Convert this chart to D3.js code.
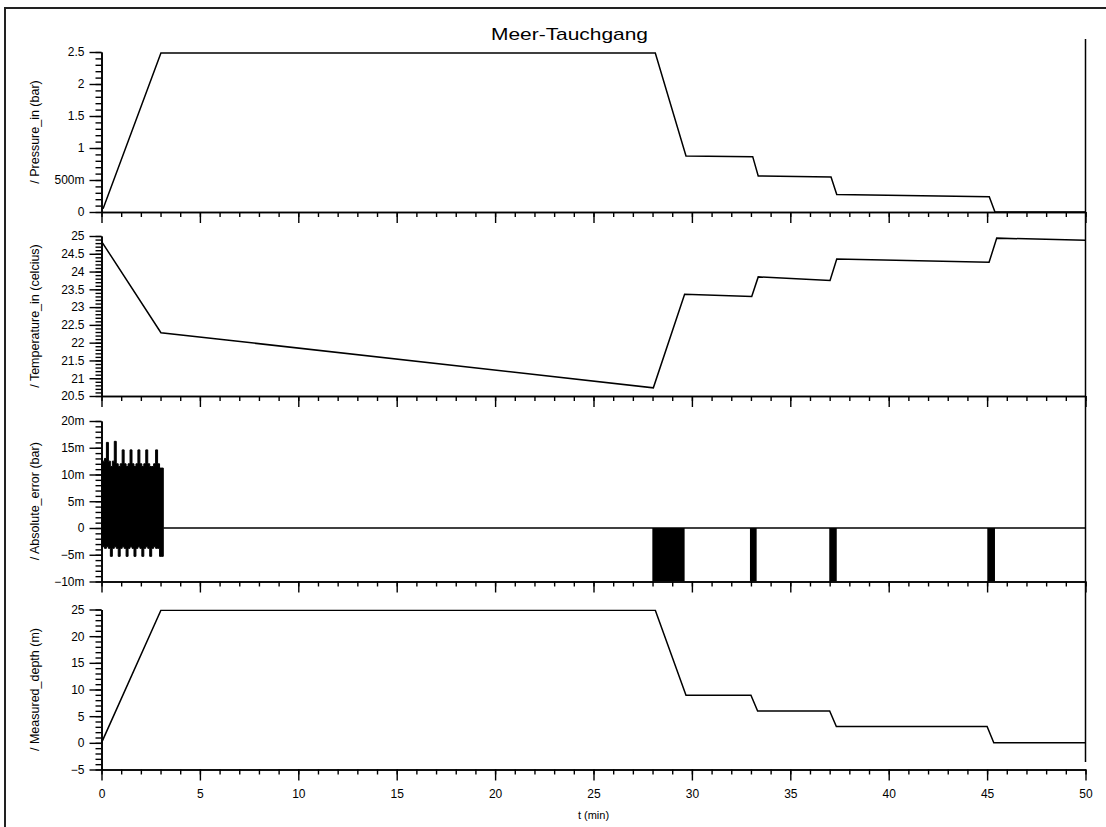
<!DOCTYPE html>
<html>
<head>
<meta charset="utf-8">
<script src="https://cdn.jsdelivr.net/npm/d3@7"></script>
<style>
  html, body { margin: 0; padding: 0; background: #fff; overflow: hidden; }
  svg { display: block; }
  text { font-family: "Liberation Sans", Arial, Helvetica, sans-serif; fill: #000; }
</style>
</head>
<body>
<svg id="chart" width="1106" height="827"></svg>
<script>
// ---------------- data ----------------
const title = "Meer-Tauchgang";
const xLabel = "t (min)";
const timeDomain = [0, 50];
const timeMajorTicks = [0, 5, 10, 15, 20, 25, 30, 35, 40, 45, 50];

const pressureT = [0.08, 3.02, 28.14, 29.70, 33.09, 33.37, 37.07, 37.36, 45.11, 45.40, 50];
const pressureV = [0.05, 2.485, 2.485, 0.875, 0.865, 0.563, 0.547, 0.272, 0.24, 0, 0];

const temperatureT = [0, 3.02, 28.04, 29.63, 33.04, 33.37, 37.02, 37.36, 45.10, 45.49, 50];
const temperatureV = [24.85, 22.28, 20.73, 23.36, 23.30, 23.85, 23.75, 24.35, 24.26, 24.94, 24.88];

// absolute error: dense oscillation envelope at the start (min / max per 0.1 min)
const errNoiseT  = [0.0, 0.1, 0.2, 0.3, 0.4, 0.5, 0.6, 0.7, 0.8, 0.9, 1.0, 1.1, 1.2, 1.3, 1.4, 1.5,
                    1.6, 1.7, 1.8, 1.9, 2.0, 2.1, 2.2, 2.3, 2.4, 2.5, 2.6, 2.7, 2.8, 2.9, 3.0, 3.14];
const errNoiseHi = [13.0, 12.5, 13.0, 16.0, 12.5, 11.5, 12.5, 16.2, 12.0, 11.5, 12.0, 14.6, 12.0, 11.5, 12.0, 14.6,
                    12.0, 11.5, 12.0, 14.6, 12.0, 11.5, 12.0, 14.6, 12.0, 11.5, 11.5, 12.0, 14.6, 12.0, 11.2, 11.2];
const errNoiseLo = [-3.5, -3.5, -3.8, -3.5, -3.8, -5.3, -3.8, -3.5, -3.8, -5.3, -3.8, -3.5, -3.8, -5.3, -3.8, -3.5,
                    -3.8, -5.3, -3.8, -3.5, -3.8, -5.3, -3.8, -3.5, -3.8, -5.3, -3.8, -3.5, -3.8, -3.8, -5.3, -5.3];
const errZeroT = [3.14, 50];
const errZeroV = [0, 0];
// bursts of large negative error during the ascents (fill from 0 down past -10m)
const errBurstStart = [27.99, 32.95, 36.98, 45.01];
const errBurstEnd   = [29.63, 33.29, 37.36, 45.40];
const errBurstLo = -10;
const errBurstHi = 0;

const depthT = [0, 3.02, 28.14, 29.70, 33.00, 33.34, 37.00, 37.34, 45.00, 45.34, 50];
const depthV = [0, 24.85, 24.85, 8.93, 8.93, 5.98, 5.98, 3.05, 3.05, 0, 0];

const cursorT = 50;

// panel axis definitions
const pressureTicks = [0, 0.5, 1, 1.5, 2, 2.5];
const pressureTickLabels = ["0", "500m", "1", "1.5", "2", "2.5"];
const temperatureTicks = [20.5, 21, 21.5, 22, 22.5, 23, 23.5, 24, 24.5, 25];
const temperatureTickLabels = ["20.5", "21", "21.5", "22", "22.5", "23", "23.5", "24", "24.5", "25"];
const errorTicks = [-10, -5, 0, 5, 10, 15, 20];
const errorTickLabels = ["\u221210m", "\u22125m", "0", "5m", "10m", "15m", "20m"];
const depthTicks = [-5, 0, 5, 10, 15, 20, 25];
const depthTickLabels = ["\u22125", "0", "5", "10", "15", "20", "25"];

// ---------------- layout ----------------
const svg = d3.select("#chart");
const X0 = 101.5, X1 = 1085.5;
const x = d3.scaleLinear().domain(timeDomain).range([X0, X1]);

const panels = [
  { name: "/ Pressure_in (bar)", domain: [0, 2.5], top: 52, bottom: 212, ticks: pressureTicks, labels: pressureTickLabels, minor: 0.1 },
  { name: "/ Temperature_in (celcius)", domain: [20.5, 25], top: 236, bottom: 396, ticks: temperatureTicks, labels: temperatureTickLabels, minor: 0.1 },
  { name: "/ Absolute_error (bar)", domain: [-10, 20], top: 421, bottom: 581.5, ticks: errorTicks, labels: errorTickLabels, minor: 1 },
  { name: "/ Measured_depth (m)", domain: [-5, 25], top: 609.5, bottom: 769.5, ticks: depthTicks, labels: depthTickLabels, minor: 1 }
];
panels.forEach(p => { p.y = d3.scaleLinear().domain(p.domain).range([p.bottom, p.top]); });

// outer frame (extends past the window like the reference)
svg.append("rect").attr("x", 5).attr("y", 8).attr("width", 1300).attr("height", 1000)
  .attr("fill", "none").attr("stroke", "#222").attr("stroke-width", 2);

// title
svg.append("text").attr("x", 569.5).attr("y", 39.5).attr("text-anchor", "middle")
  .attr("font-size", 17).text(title)
  .attr("textLength", 157).attr("lengthAdjust", "spacingAndGlyphs");

const defs = svg.append("defs");

function stepRange(lo, hi, step) {
  const n = Math.round((hi - lo) / step);
  return d3.range(n + 1).map(i => +(lo + i * step).toFixed(6));
}

panels.forEach((p, i) => {
  const g = svg.append("g");
  defs.append("clipPath").attr("id", "clip" + i).append("rect")
    .attr("x", X0).attr("y", p.top).attr("width", X1 - X0).attr("height", p.bottom - p.top);

  // x axis: minor and major ticks
  const xMinor = d3.axisBottom(x).tickValues(stepRange(0, 50, 1)).tickSize(5).tickSizeOuter(0).tickFormat("");
  const xMajor = d3.axisBottom(x).tickValues(timeMajorTicks).tickSize(11).tickSizeOuter(0)
    .tickFormat(i === panels.length - 1 ? d3.format("d") : "").tickPadding(9);
  const gxm = g.append("g").attr("transform", `translate(0,${p.bottom})`).call(xMinor);
  const gxM = g.append("g").attr("transform", `translate(0,${p.bottom})`).call(xMajor);
  [gxm, gxM].forEach(a => {
    a.selectAll("line").attr("stroke", "#000").attr("stroke-width", 1.4);
    a.select(".domain").attr("stroke", "#000").attr("stroke-width", 1.6);
    a.selectAll("text").attr("font-size", 12).attr("font-family", '"Liberation Sans", Arial, sans-serif').attr("fill", "#000");
  });

  // y axis
  const yMinor = d3.axisLeft(p.y).tickValues(stepRange(p.domain[0], p.domain[1], p.minor)).tickSize(6).tickSizeOuter(0).tickFormat("");
  const yMajor = d3.axisLeft(p.y).tickValues(p.ticks).tickSize(12).tickSizeOuter(0)
    .tickFormat((d, k) => p.labels[k]).tickPadding(5);
  const gym = g.append("g").attr("transform", `translate(${X0},0)`).call(yMinor);
  const gyM = g.append("g").attr("transform", `translate(${X0},0)`).call(yMajor);
  [gym, gyM].forEach(a => {
    a.selectAll("line").attr("stroke", "#000").attr("stroke-width", 1.4);
    a.select(".domain").attr("stroke", "#000").attr("stroke-width", 1.6);
    a.selectAll("text").attr("font-size", 12).attr("font-family", '"Liberation Sans", Arial, sans-serif').attr("fill", "#000");
  });

  // y label
  g.append("text")
    .attr("transform", `translate(38.5,${(p.top + p.bottom) / 2}) rotate(-90)`)
    .attr("text-anchor", "middle").attr("font-size", 12.5).text(p.name);

  p.plot = g.append("g").attr("clip-path", `url(#clip${i})`);
});

const lineGen = (ys) => d3.line().x(d => x(d[0])).y(d => ys(d[1]));
const zip = (a, b) => a.map((v, k) => [v, b[k]]);

// pressure
panels[0].plot.append("path").datum(zip(pressureT, pressureV))
  .attr("d", lineGen(panels[0].y)).attr("fill", "none").attr("stroke", "#000").attr("stroke-width", 1.5);

// temperature
panels[1].plot.append("path").datum(zip(temperatureT, temperatureV))
  .attr("d", lineGen(panels[1].y)).attr("fill", "none").attr("stroke", "#000").attr("stroke-width", 1.5);

// absolute error
{
  const p = panels[2];
  const noise = errNoiseT.map((t, k) => ({ t, lo: errNoiseLo[k], hi: errNoiseHi[k] }));
  const area = d3.area().curve(d3.curveStep).x(d => x(d.t)).y0(d => p.y(d.lo)).y1(d => p.y(d.hi));
  p.plot.append("path").datum(noise).attr("d", area).attr("fill", "#000").attr("stroke", "#000").attr("stroke-width", 1);
  p.plot.append("path").datum(zip(errZeroT, errZeroV))
    .attr("d", lineGen(p.y)).attr("fill", "none").attr("stroke", "#000").attr("stroke-width", 1.5);
  const bursts = errBurstStart.map((s, k) => ({ s, e: errBurstEnd[k] }));
  p.plot.selectAll("rect.burst").data(bursts).enter().append("rect").attr("class", "burst")
    .attr("x", d => x(d.s)).attr("width", d => x(d.e) - x(d.s))
    .attr("y", p.y(errBurstHi)).attr("height", p.y(errBurstLo) - p.y(errBurstHi))
    .attr("fill", "#000");
}

// depth
panels[3].plot.append("path").datum(zip(depthT, depthV))
  .attr("d", lineGen(panels[3].y)).attr("fill", "none").attr("stroke", "#000").attr("stroke-width", 1.5);

// vertical cursor line at the end of the time range
svg.append("line").attr("x1", x(cursorT)).attr("x2", x(cursorT)).attr("y1", 39).attr("y2", 762)
  .attr("stroke", "#000").attr("stroke-width", 1.5);

// x label
svg.append("text").attr("x", 593.5).attr("y", 819).attr("text-anchor", "middle")
  .attr("font-size", 11).text(xLabel);
</script>
</body>
</html>
